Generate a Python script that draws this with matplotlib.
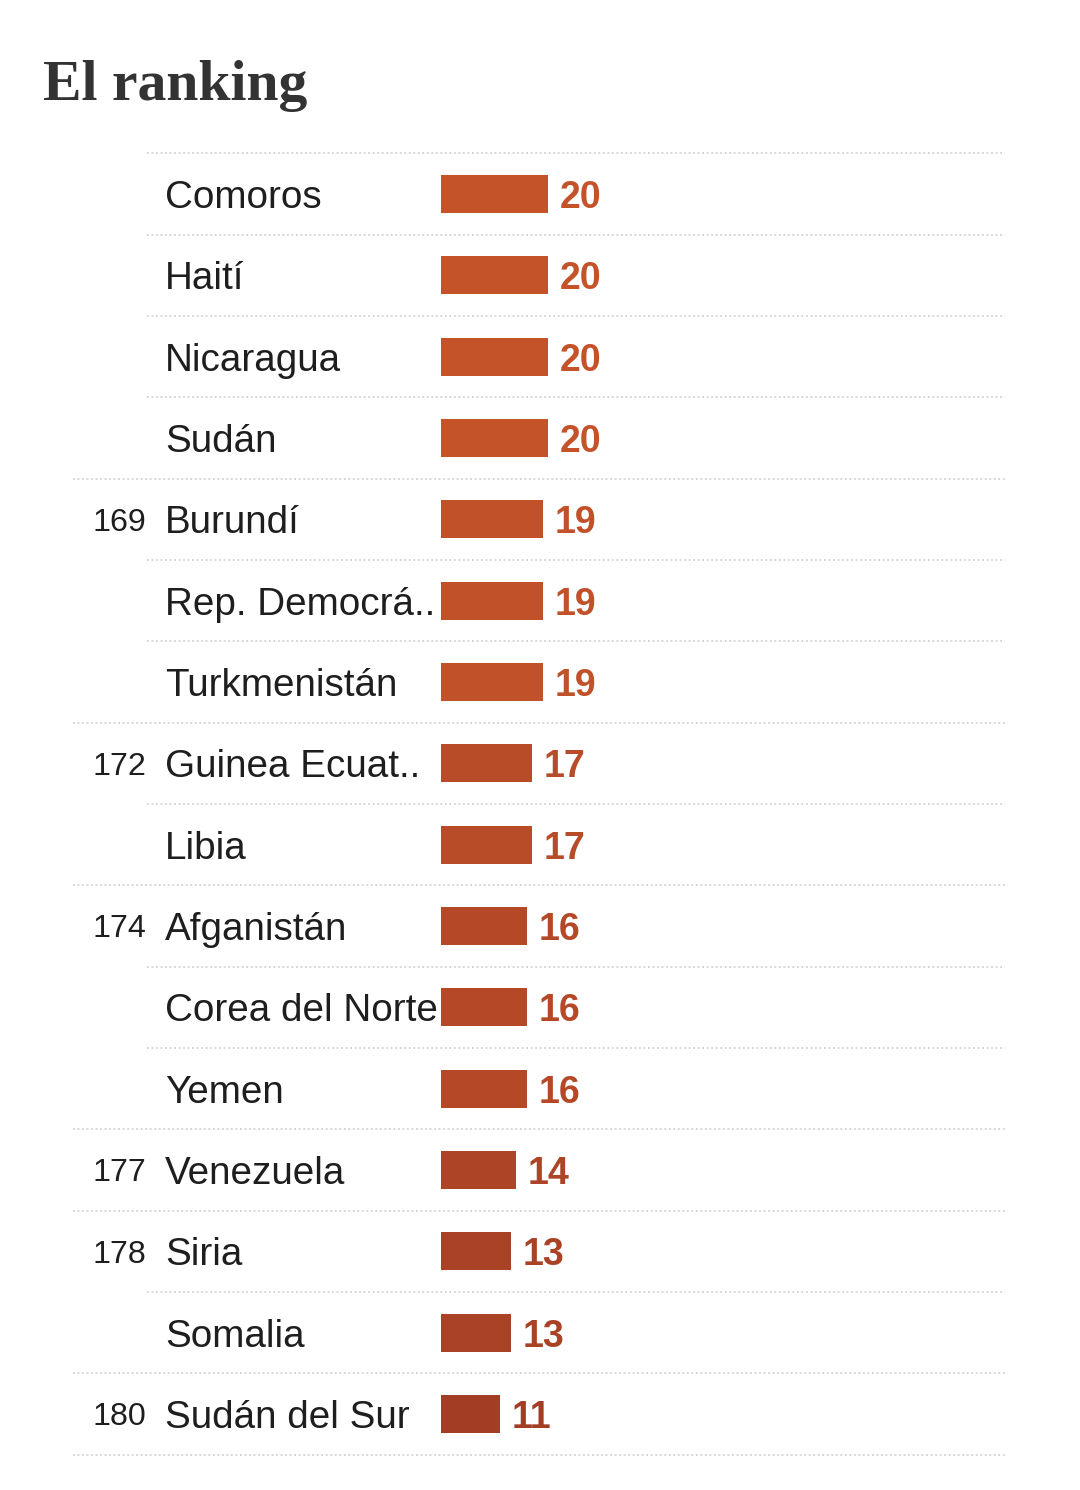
import matplotlib.pyplot as plt
from matplotlib.colors import LinearSegmentedColormap, Normalize
from matplotlib.transforms import blended_transform_factory

# Data
countries = ["Comoros", "Haití", "Nicaragua", "Sudán", "Burundí",
             "Rep. Democrá..", "Turkmenistán", "Guinea Ecuat..", "Libia",
             "Afganistán", "Corea del Norte", "Yemen", "Venezuela", "Siria",
             "Somalia", "Sudán del Sur"]
scores = [20, 20, 20, 20, 19, 19, 19, 17, 17, 16, 16, 16, 14, 13, 13, 11]
ranks = ["", "", "", "", "169", "", "", "172", "", "174", "", "", "177",
         "178", "", "180"]

# Figure geometry (pixels)
W, H = 1080, 1490
x0_px = 441          # where value 0 sits
px_per_unit = 5.37
row0_px = 194        # centre of the first row from the top
row_px = 81.33

fig = plt.figure(figsize=(W / 100, H / 100), dpi=100)
ax = fig.add_axes([0, 0, 1, 1])
ax.set_xlim(-x0_px / px_per_unit, (W - x0_px) / px_per_unit)
ax.set_ylim((H - row0_px) / row_px, -row0_px / row_px)
ax.axis("off")

cmap = LinearSegmentedColormap.from_list("rk", ["#a33d24", "#c4532a"])
norm = Normalize(vmin=min(scores), vmax=max(scores))
colors = [cmap(norm(v)) for v in scores]

n = len(countries)
rows = list(range(n))
ax.barh(rows, scores, height=0.47, left=0, color=colors)

fx = blended_transform_factory(fig.transFigure, ax.transData)
for i in rows:
    ax.text(165 / W, i, countries[i], transform=fx, ha="left",
            va="center_baseline", fontsize=27.8, family="Liberation Sans",
            color="#1e1e1e")
    if ranks[i]:
        ax.text(146 / W, i, ranks[i], transform=fx, ha="right",
                va="center_baseline", fontsize=23.2, family="Liberation Sans",
                color="#1e1e1e")
    ax.text(scores[i] + 2.2, i, str(scores[i]), ha="left",
            va="center_baseline", fontsize=27, fontweight="bold",
            family="Liberation Sans", color=colors[i])

# dotted separators, longer ones where a new rank starts
for i in range(n + 1):
    start = 73 if (i == n or (i < n and ranks[i])) else 147
    ax.axhline(i - 0.5, xmin=start / W, xmax=1005 / W, color="#d2d2d2",
               linewidth=1.3, linestyle=(0, (1, 1.5)))

fig.text(43 / W, 1 - 100 / H, "El ranking", ha="left", va="baseline",
         fontsize=41.6, fontweight="bold", family="Liberation Serif",
         color="#333333")

fig.savefig("out.png", dpi=100)
